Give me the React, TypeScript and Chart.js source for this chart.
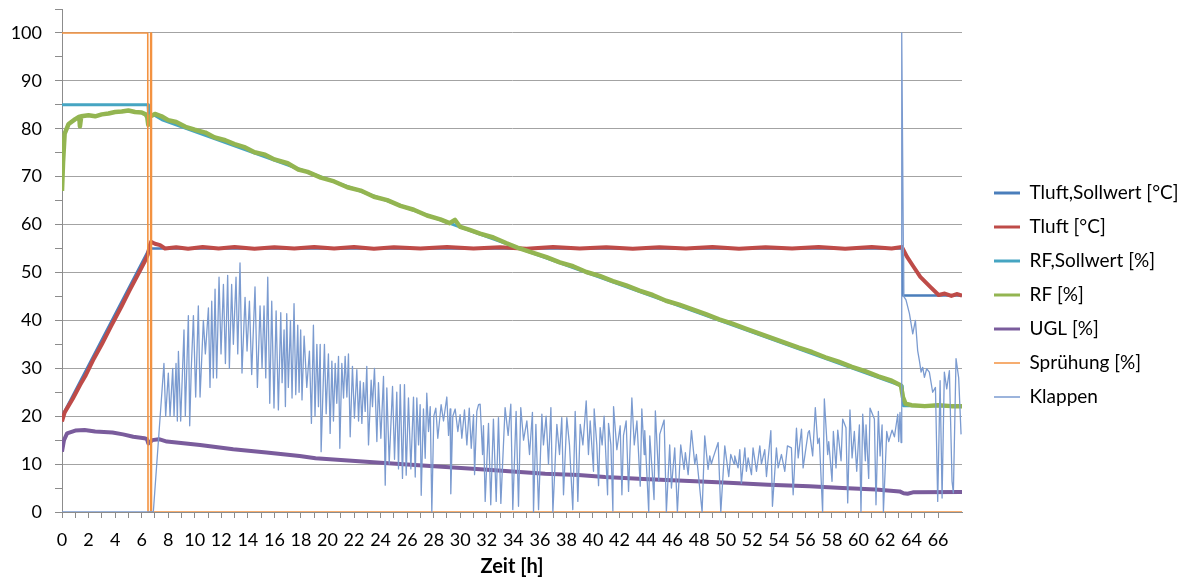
import React, { useEffect, useRef } from 'react';
import { Chart, registerables } from 'chart.js';

Chart.register(...registerables);
Chart.defaults.font.family = 'Lato, "Open Sans", sans-serif';

type Pts = [number, number][];

// ---- tick labels / axis ----
const xAxisTitle = 'Zeit [h]';
const xMax = 67.8;
const yMax = 105;

// ---- series names & colours ----
const seriesNames = [
  'Tluft,Sollwert [°C]',
  'Tluft [°C]',
  'RF,Sollwert [%]',
  'RF [%]',
  'UGL [%]',
  'Sprühung [%]',
  'Klappen',
];
const seriesColors = ['#4a7ebb', '#be4b48', '#46a5c2', '#93b551', '#7a5c9c', '#f39240', '#7b9bd0'];
const seriesWidths = [2.5, 4, 3, 4.5, 4, 1.6, 1.3];
const legendWidths = [3, 3, 3, 3, 3, 1.5, 1.5];

// ---- data: [time h, value] ----
const tluftSoll: Pts = [[0, 20], [6.5, 54.6], [6.55, 55], [63.28, 55], [63.35, 45.2], [67.8, 45.2]];

const tluft: Pts = [
  [0, 18.9], [0.2, 20.8], [0.8, 23.6], [1.36, 26.5], [1.8, 28.6], [2.4, 32], [3.0, 35], [3.7, 38.8], [4.5, 43],
  [5.1, 46.3], [5.75, 49.7], [6.25, 52.4], [6.46, 53.7], [6.6, 55.5], [6.71, 56.4], [7.0, 56], [7.39, 55.7],
  [7.76, 55.0], [8.6, 55.25], [9.5, 54.95], [10.6, 55.3], [11.8, 55.0], [13.0, 55.3], [14.5, 54.95], [16, 55.25],
  [17.5, 55.0], [19, 55.3], [20.5, 55.0], [22, 55.3], [23.5, 54.95], [25, 55.25], [27, 55.0], [29, 55.3], [31, 55.0],
  [33, 55.25], [35, 54.95], [37, 55.3], [39, 55.0], [41, 55.25], [43, 54.95], [45, 55.25], [47, 55.0], [49, 55.3],
  [51, 54.95], [53, 55.25], [55, 55.0], [57, 55.3], [59, 54.95], [61, 55.3], [62.5, 55.0], [63.28, 55.3],
  [63.65, 53.3], [64.15, 51.2], [64.66, 49.1], [65.41, 47.0], [66.04, 45.3], [66.5, 45.6], [67, 45.1],
  [67.4, 45.5], [67.8, 45.2],
];

const rfSoll: Pts = [[0, 85], [6.48, 85], [6.52, 83], [7.0, 82.8], [7.6, 81.8], [63.3, 26.3], [63.38, 22.2], [67.8, 22.2]];

const rf: Pts = [
  [0, 67], [0.08, 73], [0.2, 79], [0.5, 81], [1.0, 82], [1.3, 82.5], [1.35, 80.5], [1.45, 82.6], [2, 82.8],
  [2.5, 82.6], [3, 83], [3.5, 83.2], [4, 83.5], [4.5, 83.6], [5, 83.8], [5.5, 83.5], [6.0, 83.4], [6.3, 83],
  [6.42, 82.4], [6.5, 80.8], [6.6, 82.5], [7.0, 83.1], [7.5, 82.6], [8.0, 81.8], [8.6, 81.4], [9.3, 80.4],
  [10, 79.8], [10.8, 79.2], [11.5, 78.2], [12.3, 77.6], [13, 76.8], [13.8, 76.1], [14.5, 75.1], [15.3, 74.6],
  [16, 73.6], [17, 72.8], [17.8, 71.5], [18.5, 71], [19.5, 69.8], [20.5, 69.0], [21.5, 67.8], [22.5, 67.1],
  [23.5, 65.8], [24.5, 65.1], [25.5, 63.9], [26.5, 63.1], [27.5, 61.9], [28.5, 61.1], [29.2, 60.3], [29.6, 61.0],
  [30.0, 59.5], [30.6, 59.0], [31.5, 58.1], [32.5, 57.3], [33.5, 56.1], [34.3, 55.2], [35.5, 54.1], [36.5, 53.2],
  [37.5, 52.1], [38.5, 51.3], [39.5, 50.1], [40.5, 49.3], [41.5, 48.2], [42.5, 47.3], [43.5, 46.2], [44.5, 45.3],
  [45.5, 44.1], [46.5, 43.3], [47.5, 42.3], [48.5, 41.3], [49.5, 40.2], [50.5, 39.3], [51.5, 38.3], [52.5, 37.3],
  [53.5, 36.3], [54.5, 35.3], [55.5, 34.3], [56.5, 33.4], [57.5, 32.3], [58.5, 31.4], [59.5, 30.3], [60.5, 29.4],
  [61.5, 28.3], [62.5, 27.4], [63.2, 26.4], [63.35, 24], [63.55, 22.6], [64, 22.3], [65, 22.1], [66, 22.3],
  [67, 22.1], [67.8, 22.1],
];

const ugl: Pts = [
  [0, 12.6], [0.15, 15], [0.38, 16.4], [1, 17], [1.7, 17.1], [2.5, 16.8], [3.8, 16.6], [4.6, 16.2], [5.37, 15.7],
  [6.2, 15.4], [6.4, 15.2], [6.5, 14.3], [6.8, 15], [7.3, 15.2], [7.9, 14.7], [10.4, 14.0], [12.9, 13.1],
  [15.4, 12.4], [17.9, 11.7], [19.1, 11.2], [24.0, 10.3], [31.5, 8.9], [36.4, 8.0], [38.9, 7.7], [40.9, 7.3],
  [43.8, 6.9], [47.7, 6.4], [50.2, 6.1], [53.2, 5.7], [56.3, 5.4], [58.8, 5.0], [61.3, 4.7], [63.1, 4.3],
  [63.4, 3.9], [63.7, 3.8], [64.1, 4.1], [67.8, 4.2],
];

const spruehung: Pts = [[0, 100], [6.46, 100], [6.48, 0], [6.66, 0], [6.68, 100], [6.72, 100], [6.74, 0], [67.8, 0]];

const klappen: Pts = [
  [0, 0], [6.88, 0], [7.68, 31], [7.81, 20], [8.01, 29], [8.14, 20], [8.34, 30], [8.44, 20], [8.59, 31], [8.69, 19],
  [8.77, 33.5], [8.94, 19], [9.19, 38], [9.29, 20], [9.52, 41], [9.62, 18], [9.74, 30], [9.90, 41], [10.07, 24],
  [10.27, 43], [10.40, 24], [10.65, 40], [10.80, 33], [11.03, 42.6], [11.15, 26], [11.28, 44], [11.40, 28],
  [11.53, 46.5], [11.65, 28], [11.83, 49], [11.98, 33], [12.16, 47.5], [12.31, 31], [12.48, 49.4], [12.61, 30],
  [12.78, 47.5], [12.91, 35], [13.11, 49], [13.24, 33], [13.41, 52], [13.56, 29], [13.79, 44.8], [13.94, 33.6],
  [14.12, 44], [14.29, 28.7], [14.54, 47], [14.72, 26], [14.92, 43], [15.07, 30], [15.22, 43], [15.35, 28],
  [15.50, 49], [15.65, 22.7], [15.80, 44], [15.97, 21.7], [16.13, 42], [16.30, 21.3], [16.48, 41.6], [16.58, 27],
  [16.73, 38], [16.83, 22], [16.93, 41.4], [17.05, 26], [17.21, 40], [17.33, 23.8], [17.48, 43.5], [17.61, 24.5],
  [17.76, 39], [17.86, 25], [17.98, 38], [18.08, 23.4], [18.24, 36.7], [18.44, 26], [18.64, 33.6], [18.79, 18.5],
  [18.94, 39], [19.06, 20],
  [19.20, 35], [19.32, 22], [19.45, 35], [19.52, 12.6], [19.77, 35], [19.90, 20.5], [20.07, 33], [20.20, 16.4],
  [20.33, 31.5], [20.45, 19], [20.58, 31], [20.70, 22.7], [20.83, 32.5], [20.93, 13.3], [21.08, 31], [21.21, 23.8],
  [21.33, 32.5], [21.46, 24], [21.58, 33], [21.71, 15.7], [21.88, 30.4], [22.03, 19.6], [22.21, 29.7], [22.34, 19],
  [22.46, 27.3], [22.59, 18.5], [22.71, 27], [22.84, 21], [22.96, 30.4], [23.09, 14], [23.29, 27.5], [23.39, 22],
  [23.54, 30], [23.72, 14.7], [23.84, 27], [24.02, 15.4], [24.22, 28.3], [24.35, 5.6], [24.47, 25.9], [24.65, 10],
  [24.90, 26.2], [25.05, 11], [25.22, 25], [25.35, 9], [25.48, 26.6], [25.65, 7], [25.80, 26.6], [25.93, 7.7],
  [26.10, 23.8], [26.28, 9], [26.48, 24], [26.61, 7.3], [26.73, 23.8], [26.86, 14], [26.98, 22.4], [27.06, 3.5],
  [27.23, 21.5], [27.36, 11.2], [27.48, 24.8], [27.61, 16.8], [27.74, 22], [27.86, 0], [28.01, 20], [28.16, 21.7],
  [28.31, 15.4], [28.56, 22.4], [28.74, 19], [28.99, 24], [29.12, 16], [29.24, 21.5], [29.29, 3.8], [29.44, 20],
  [29.62, 21.5], [29.82, 16.8], [29.99, 20.3], [30.12, 15.4], [30.32, 21.3], [30.50, 14], [30.68, 21.7],
  [30.83, 13.3], [31.00, 20.3], [31.08, 7.8], [31.25, 21], [31.38, 22.4],
  [31.50, 22.5], [31.68, 12], [31.75, 18], [31.88, 2.2], [32.13, 18.5], [32.30, 1.5], [32.50, 19.4], [32.71, 2.2],
  [32.88, 19.7], [33.06, 1.8], [33.38, 21.8], [33.61, 16], [33.81, 22.5], [33.96, 0.5], [34.21, 21], [34.39, 1.2],
  [34.56, 21.8], [34.77, 15], [35.02, 19], [35.22, 12], [35.44, 20.8], [35.52, 0], [35.70, 18.3], [35.90, 0.5],
  [36.15, 20.4], [36.27, 14], [36.47, 20], [36.65, 10], [36.83, 21.8], [36.98, 0], [37.28, 18.3], [37.48, 12],
  [37.65, 19.7], [37.78, 3.6], [38.03, 19.7], [38.23, 14], [38.48, 0.5], [38.66, 21], [38.86, 2.2], [39.04, 18.3],
  [39.24, 14], [39.49, 23.2], [39.66, 12], [39.79, 19], [40.04, 8.5], [40.09, 21.5], [40.29, 14], [40.42, 5.5],
  [40.54, 17.6], [40.69, 14], [40.84, 20], [41.10, 3.6], [41.17, 18.5], [41.35, 14], [41.50, 0.2], [41.55, 22],
  [41.80, 13], [42.05, 18], [42.18, 3.6], [42.30, 16], [42.50, 19], [42.68, 4.3], [42.93, 23.8], [43.11, 14],
  [43.31, 19], [43.56, 5.4], [43.68, 21.5], [43.86, 12],
  [43.90, 17], [44.20, 0], [44.28, 15.9], [44.60, 2.6], [44.70, 21.1], [44.96, 6.4], [45.03, 16.2], [45.36, 19.2],
  [45.53, 0], [45.78, 14], [45.91, 5], [46.16, 13.4], [46.36, 0], [46.61, 14], [46.86, 8.9], [46.96, 12.4],
  [47.17, 7.8], [47.42, 17], [47.67, 10], [47.79, 12], [48.22, 0], [48.42, 15.9], [48.67, 8.9], [48.80, 11.7],
  [48.92, 10], [49.05, 11.3], [49.43, 14.5], [49.63, 0], [49.93, 13.8], [50.23, 7.4], [50.38, 12], [50.63, 10],
  [50.68, 11.7], [50.93, 9.2], [51.06, 13], [51.18, 6], [51.44, 13.4], [51.56, 8.5], [51.69, 11.3], [51.94, 7.8],
  [52.06, 13.4], [52.32, 8.5], [52.57, 13.8], [52.69, 10], [52.94, 13], [53.07, 7.4], [53.40, 17], [53.52, 1.2],
  [53.82, 13.4], [53.95, 9.2], [54.20, 12], [54.45, 8.5], [54.65, 13.8], [54.95, 13.4], [55.08, 3.6], [55.33, 17.5],
  [55.46, 11.3], [55.71, 17.3], [55.83, 9.2], [56.21, 16.6],
  [56.30, 17], [56.55, 11.7], [56.75, 21.8], [56.93, 14.3], [57.05, 15.4], [57.30, 0], [57.43, 23.6], [57.68, 12],
  [57.76, 14.7], [58.01, 6.4], [58.11, 16.8], [58.31, 9.2], [58.44, 17.1], [58.69, 10.7], [58.81, 19.4],
  [59.06, 17.6], [59.19, 1.9], [59.36, 21.3], [59.52, 11.3], [59.69, 16.8], [59.87, 8.5], [60.07, 18.2],
  [60.19, 0], [60.32, 20.4], [60.52, 10.7], [60.57, 18.2], [60.77, 7], [60.87, 21.7], [61.20, 19.4], [61.32, 1.5],
  [61.50, 21], [61.63, 11.7], [61.78, 18.2], [61.88, 0], [62.13, 16.8], [62.28, 14.7], [62.53, 17.1], [62.71, 15.7],
  [62.96, 20.4], [63.03, 14.7], [63.13, 20.8], [63.21, 14.5], [63.26, 100], [63.41, 45], [63.58, 44.3],
  [63.84, 41.4], [64.09, 37.2], [64.29, 40], [64.46, 33.7], [64.59, 31.6], [64.72, 29.2], [64.84, 30.2],
  [64.97, 28.1], [65.14, 29.9], [65.34, 29.2], [65.59, 25], [65.80, 26], [65.97, 2.2], [66.15, 27.4], [66.30, 2.9],
  [66.47, 29.2], [66.65, 25.7], [66.85, 29.5], [67.05, 6.4], [67.15, 4], [67.35, 32], [67.55, 28], [67.73, 16.2],
];

const seriesData: Pts[] = [tluftSoll, tluft, rfSoll, rf, ugl, spruehung, klappen];

export default function App() {
  const ref = useRef<HTMLCanvasElement>(null);

  useEffect(() => {
    const canvas = ref.current;
    if (!canvas) return;
    const n = seriesNames.length;
    const datasets = seriesNames.map((name, i) => ({
      label: name,
      data: seriesData[i].map(([x, y]) => ({ x, y })),
      borderColor: seriesColors[i],
      backgroundColor: seriesColors[i],
      borderWidth: seriesWidths[i],
      pointRadius: 0,
      tension: 0,
      fill: false,
      order: n - 1 - i,
      borderJoinStyle: 'round' as const,
    }));

    const chart = new Chart(canvas, {
      type: 'line',
      data: { datasets },
      options: {
        animation: false,
        responsive: false,
        devicePixelRatio: 1,
        layout: { padding: { top: 9, left: 0, right: 0, bottom: 0 } },
        plugins: {
          tooltip: { enabled: false },
          legend: {
            position: 'right',
            maxWidth: 205,
            labels: {
              usePointStyle: true,
              pointStyle: 'line',
              pointStyleWidth: 26,
              padding: 15,
              color: '#000',
              font: { size: 19 },
              generateLabels: (ch: any) =>
                ch.data.datasets.map((ds: any, i: number) => ({
                  text: ds.label,
                  strokeStyle: ds.borderColor,
                  fillStyle: ds.borderColor,
                  lineWidth: legendWidths[i],
                  pointStyle: 'line',
                  hidden: false,
                  datasetIndex: i,
                  fontColor: '#000',
                })),
            },
          },
        },
        scales: {
          x: {
            type: 'linear',
            min: 0,
            max: xMax,
            afterFit: (s: any) => {
              s.height = 69;
              s.paddingLeft = 0;
              s.paddingRight = 0;
            },
            afterBuildTicks: (s: any) => {
              s.ticks = s.ticks.filter((t: any) => Number.isInteger(t.value));
            },
            ticks: {
              stepSize: 1,
              autoSkip: false,
              maxRotation: 0,
              minRotation: 0,
              padding: 11,
              color: '#000',
              font: { size: 18 },
              callback: (v: any) => (Number(v) % 2 === 0 ? String(v) : ''),
            },
            grid: {
              drawOnChartArea: false,
              drawTicks: true,
              tickLength: 6,
              tickColor: '#8c8c8c',
              color: '#8c8c8c',
            },
            border: { color: '#8c8c8c' },
            title: {
              display: true,
              text: xAxisTitle,
              color: '#000',
              font: { size: 20, weight: 'bold' },
              padding: { top: 0, bottom: 2 },
            },
          },
          y: {
            type: 'linear',
            position: 'left',
            min: 0,
            max: yMax,
            afterFit: (s: any) => {
              s.width = 62;
              s.paddingTop = 0;
              s.paddingBottom = 0;
            },
            ticks: {
              stepSize: 5,
              autoSkip: false,
              padding: 13,
              color: '#000',
              font: { size: 18 },
              callback: (v: any) => (Number(v) % 10 === 0 ? String(v) : ''),
            },
            grid: {
              color: (c: any) =>
                c.tick && c.tick.value % 10 === 0 && c.tick.value > 0 && c.tick.value <= 100
                  ? '#a3a3a3'
                  : 'rgba(0,0,0,0)',
              tickColor: '#8c8c8c',
              tickLength: 7,
              lineWidth: 1,
            },
            border: { color: '#8c8c8c' },
          },
          y2: {
            type: 'linear',
            position: 'right',
            display: true,
            afterFit: (s: any) => {
              s.width = 17;
              s.paddingTop = 0;
              s.paddingBottom = 0;
            },
            grid: { display: false, drawTicks: false },
            border: { display: false },
            ticks: { display: false },
          },
        },
      } as any,
    });
    return () => chart.destroy();
  }, []);

  return (
    <div style={{ position: 'fixed', left: 0, top: 0, width: 1184, height: 581, background: '#fff' }}>
      <canvas ref={ref} width={1184} height={581} style={{ display: 'block' }} />
    </div>
  );
}
